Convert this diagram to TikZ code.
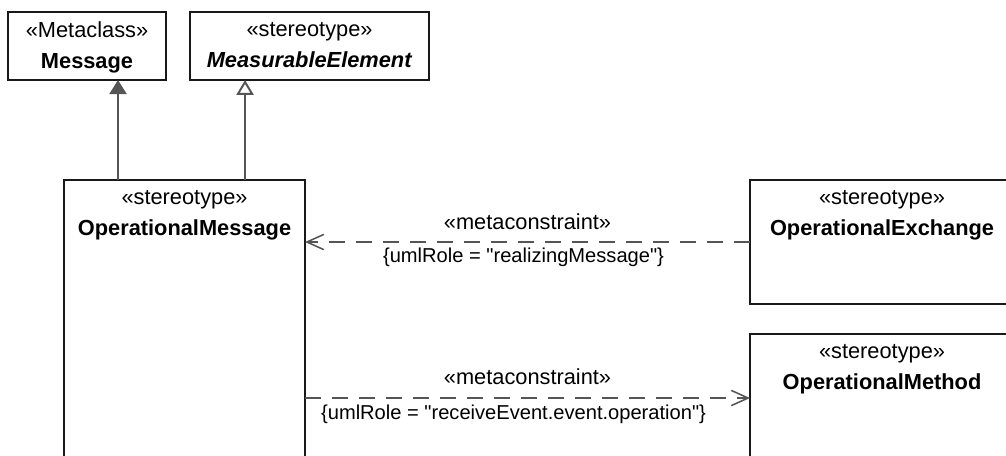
\documentclass[tikz,border=0pt]{standalone}
\usepackage{fontspec}
\setmainfont{Liberation Sans}
\usepackage{tikz}
\usetikzlibrary{arrows.meta,positioning,calc}
\definecolor{boxline}{RGB}{25,25,25}
\definecolor{linegray}{RGB}{85,85,85}

\begin{document}
\begin{tikzpicture}[x=0.025cm,y=-0.025cm,
		classbox/.style={draw=boxline,line width=1.4pt,anchor=north west,inner sep=0pt,outer sep=0pt},
		boxtext/.style={anchor=north,align=center,inner sep=0pt,yshift=-7pt,font=\fontsize{15.5}{22}\selectfont},
		edgetext/.style={inner sep=0pt,font=\fontsize{15.5}{18}\selectfont},
		ruletext/.style={inner sep=0pt,font=\fontsize{14.3}{17}\selectfont},
		solidgen/.style={draw=linegray,line width=1.4pt,-{Triangle[length=0.35cm,width=0.425cm]}},
		opengen/.style={draw=linegray,line width=1.4pt,-{Triangle[open,length=0.37cm,width=0.425cm,fill=white]}},
		metadep/.style={draw=linegray,line width=1.1pt,dash pattern=on 0.4cm off 0.275cm,-{Straight Barb[length=0.42cm,width=0.38cm]}}]
			\clip (0,0) rectangle (1006,455);
			
			\node[classbox,minimum width=3.95cm,minimum height=1.7cm,
				label={[boxtext]north:«Metaclass»\\\textbf{Message}}] (message) at (8,12) {};
			\node[classbox,minimum width=5.975cm,minimum height=1.7cm,
				label={[boxtext]north:«stereotype»\\\textbf{\textit{MeasurableElement}}}] (measurable) at (190,12) {};
			\node[classbox,minimum width=6.025cm,minimum height=7.25cm,
				label={[boxtext]north:«stereotype»\\\textbf{OperationalMessage}}] (opmessage) at (64,180) {};
			\node[classbox,minimum width=6.6cm,minimum height=3.1cm,
				label={[boxtext]north:«stereotype»\\\textbf{OperationalExchange}}] (opexchange) at (750,180) {};
			\node[classbox,minimum width=6.6cm,minimum height=3.4cm,
				label={[boxtext]north:«stereotype»\\\textbf{OperationalMethod}}] (opmethod) at (750,334) {};
			
			\coordinate (gen1) at ([xshift=1.35cm]opmessage.north west);
			\coordinate (gen2) at ([xshift=4.525cm]opmessage.north west);
			\draw[solidgen] (gen1) -- (gen1 |- message.south);
			\draw[opengen] (gen2) -- (gen2 |- measurable.south);
			
			\coordinate (dep1) at ([yshift=-1.55cm]opexchange.north west);
			\coordinate (dep2) at ([yshift=-1.6cm]opmethod.north west);
			\draw[metadep] (dep1) -- (dep1 -| opmessage.east)
				node[edgetext,midway,above=8pt] {«metaconstraint»}
				node[ruletext,midway,below=3.5pt,xshift=-0.1cm] {\{umlRole = \textquotedbl realizingMessage\textquotedbl\}};
			\draw[metadep] (dep2 -| opmessage.east) -- (dep2)
				node[edgetext,midway,above=9pt] {«metaconstraint»}
				node[ruletext,midway,below=4.5pt,xshift=-0.35cm] {\{umlRole = \textquotedbl receiveEvent.event.operation\textquotedbl\}};
			
		\end{tikzpicture}
\end{document}
